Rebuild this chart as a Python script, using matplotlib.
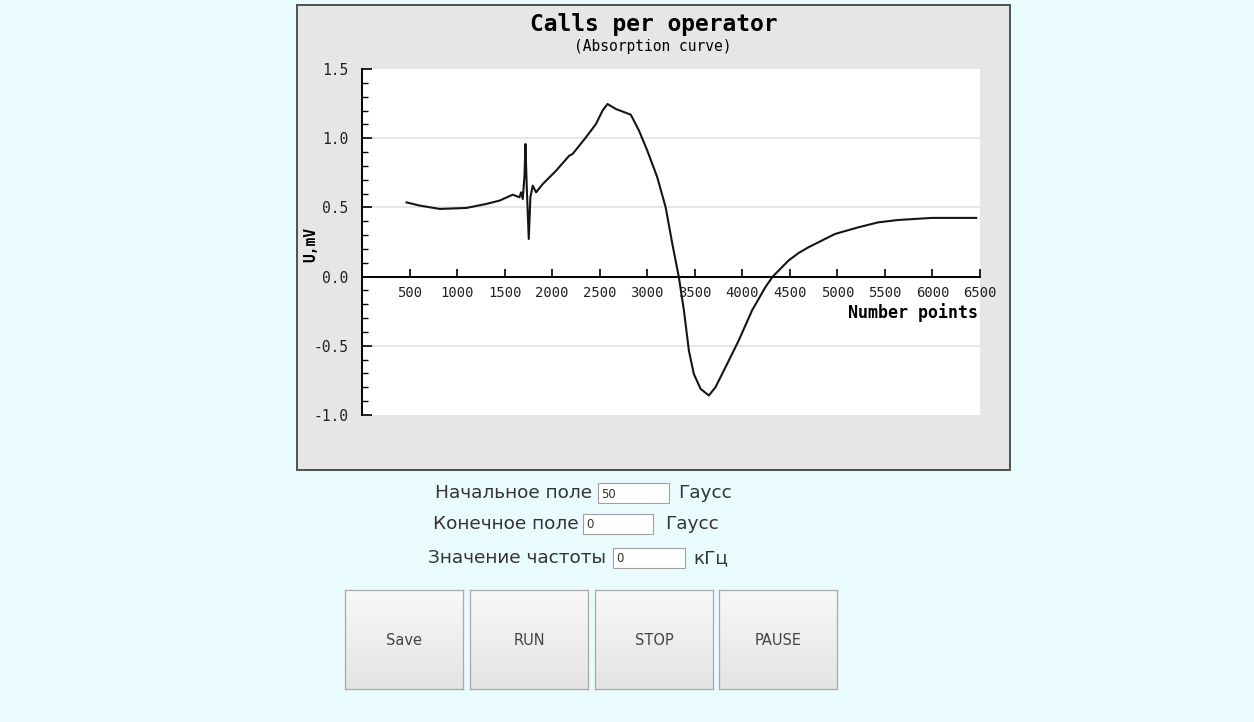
#! /usr/bin/env python
"""
plot.py - absorption curve page
"""

import numpy as np
import matplotlib
matplotlib.use('Agg')
import matplotlib.pyplot as plt
from matplotlib.patches import Rectangle

# curve (number of points, U in mV)
points = [468, 608, 818, 1097, 1307, 1447, 1586, 1656, 1674, 1691, 1709,
          1719, 1733, 1754, 1771, 1796, 1831, 1901, 2041, 2180, 2215, 2355,
          2460, 2530, 2582, 2670, 2827, 2914, 3001, 3106, 3194, 3263, 3333,
          3386, 3438, 3490, 3561, 3648, 3718, 3823, 3962, 4102, 4242, 4320,
          4486, 4591, 4696, 4975, 5220, 5430, 5639, 5988, 6460]
u_mv = [0.536, 0.513, 0.489, 0.496, 0.525, 0.549, 0.592, 0.573, 0.609, 0.561,
        0.729, 0.958, 0.645, 0.272, 0.573, 0.657, 0.609, 0.669, 0.765, 0.874,
        0.886, 1.006, 1.102, 1.199, 1.247, 1.211, 1.170, 1.054, 0.91, 0.717,
        0.50, 0.24, -0.005, -0.245, -0.534, -0.703, -0.811, -0.859, -0.799,
        -0.655, -0.462, -0.245, -0.077, 0.0, 0.116, 0.17, 0.212, 0.308, 0.356,
        0.392, 0.409, 0.424, 0.424]

x_ticks = list(range(500, 6501, 500))
y_ticks = [-1.0, -0.5, 0.0, 0.5, 1.0, 1.5]

form_rows = [('Начальное поле', '50', 'Гаусс'),
             ('Конечное поле', '0', 'Гаусс'),
             ('Значение частоты', '0', 'кГц')]
buttons = ['Save', 'RUN', 'STOP', 'PAUSE']

W, H = 1254, 722
PAGE_BG = '#eafbfe'
BOX_BG = '#e6e6e6'
MONO = 'DejaVu Sans Mono'
SANS = 'DejaVu Sans'


def fx(px):
    return px / W


def fy(py):
    return 1 - py / H


def frect(x0, y0, x1, y1):
    # pixel box (top-left origin) -> figure fraction [l, b, w, h]
    return [fx(x0), fy(y1), (x1 - x0) / W, (y1 - y0) / H]


fig = plt.figure(figsize=(W / 100, H / 100), dpi=100)
fig.patch.set_facecolor(PAGE_BG)

# chart frame
fig.patches.append(Rectangle((fx(297), fy(470)), (1010 - 297) / W,
                             (470 - 5) / H, transform=fig.transFigure,
                             facecolor=BOX_BG, edgecolor='#4b5252',
                             lw=1.4, zorder=-5))

ax = fig.add_axes(frect(362, 69, 980, 415))
ax.set_facecolor('white')
ax.plot(points, u_mv, color='#151515', lw=1.5)
ax.set_xlim(0, 6500)
ax.set_ylim(-1.0, 1.5)
ax.set_xticks(x_ticks)
ax.set_yticks(y_ticks)
ax.set_yticklabels(['%.1f' % v for v in y_ticks])
ax.set_yticks(np.arange(-1.0, 1.51, 0.1), minor=True)
for v in [-0.5, 0.5, 1.0]:
    ax.axhline(v, color='#e2e2e2', lw=1.2, zorder=0)

ax.spines['top'].set_visible(False)
ax.spines['right'].set_visible(False)
ax.spines['bottom'].set_position(('data', 0))
ax.spines['left'].set_linewidth(1.4)
ax.spines['bottom'].set_linewidth(1.4)
ax.tick_params(axis='x', direction='in', length=6, width=1.2, pad=7,
               labelsize=10, labelcolor='#222222')
ax.tick_params(axis='y', which='major', direction='in', length=7, width=1.2,
               pad=10, labelsize=10.5, labelcolor='#222222')
ax.tick_params(axis='y', which='minor', direction='in', length=4, width=1.0)
for lab in ax.get_xticklabels() + ax.get_yticklabels():
    lab.set_family(MONO)

fig.text(fx(978), fy(313), 'Number points', ha='right', va='center',
         family=MONO, fontsize=12, weight='bold')
fig.text(fx(311), fy(244), 'U,mV', ha='center', va='center', rotation=90,
         family=MONO, fontsize=10.5, weight='bold')
fig.text(fx(654), fy(25), 'Calls per operator', ha='center', va='center',
         family=MONO, fontsize=16.5, weight='bold')
fig.text(fx(653), fy(47), '(Absorption curve)', ha='center', va='center',
         family=MONO, fontsize=10.5)

# form fields
row_y = [493, 524, 558]
label_x = [435, 433, 428]
box_x = [(598, 669), (583, 653), (613, 685)]
unit_x = [678, 665, 693]
for (label, value, unit), y, lx, (bx0, bx1), ux in zip(form_rows, row_y,
                                                      label_x, box_x, unit_x):
    fig.text(fx(lx), fy(y), label, ha='left', va='center', family=SANS,
             fontsize=13.3, color='#333333')
    fig.patches.append(Rectangle((fx(bx0), fy(y + 10)), (bx1 - bx0) / W,
                                 20 / H, transform=fig.transFigure,
                                 facecolor='white', edgecolor='#a0a0a0',
                                 lw=0.8))
    fig.text(fx(bx0 + 3), fy(y + 1), value, ha='left', va='center',
             family=SANS, fontsize=8.5, color='#333333')
    fig.text(fx(ux), fy(y), unit, ha='left', va='center', family=SANS,
             fontsize=13.3, color='#333333')

# buttons
btn_x = [(345, 463), (470, 588), (595, 713), (719, 837)]
grad = np.linspace(0.97, 0.89, 50).reshape(-1, 1)
for name, (bx0, bx1) in zip(buttons, btn_x):
    bax = fig.add_axes(frect(bx0, 590, bx1, 689))
    bax.imshow(grad, cmap='gray', vmin=0, vmax=1, aspect='auto',
               extent=(0, 1, 0, 1))
    bax.set_xticks([])
    bax.set_yticks([])
    for sp in bax.spines.values():
        sp.set_color('#a9a9a9')
        sp.set_linewidth(0.9)
    bax.text(0.5, 0.49, name, ha='center', va='center', family=SANS,
             fontsize=10.5, color='#444444', transform=bax.transAxes)

fig.savefig('out.png', dpi=100, facecolor=fig.get_facecolor())
plt.close(fig)
